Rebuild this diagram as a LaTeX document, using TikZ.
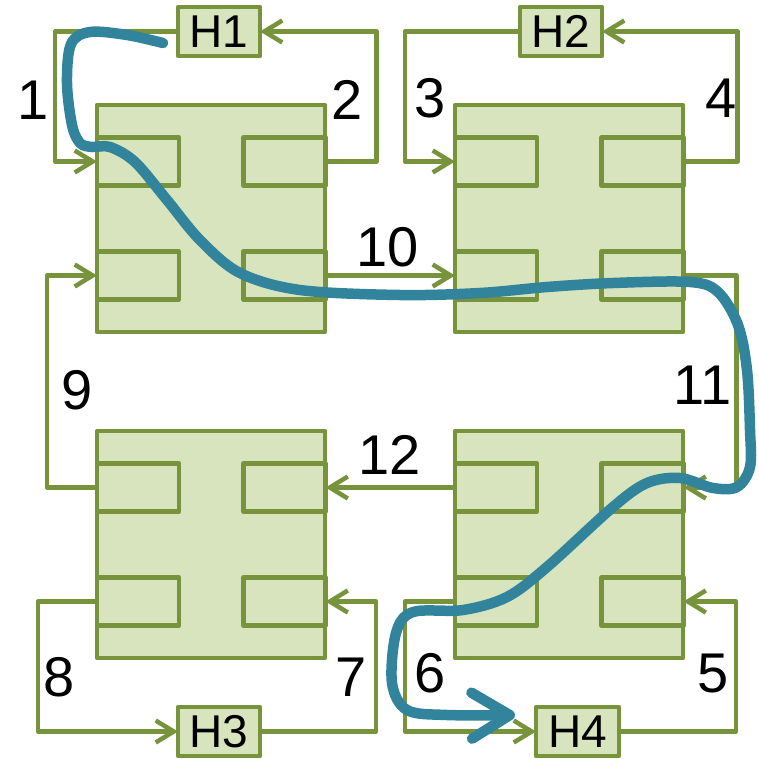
\documentclass[tikz,border=0pt]{standalone}
\usepackage{fontspec}
\setmainfont{Liberation Sans}
\usetikzlibrary{arrows.meta}
\definecolor{gline}{HTML}{77933C}
\definecolor{gfill}{HTML}{D7E4BD}
\definecolor{bpath}{HTML}{31849B}
\tikzset{
  sw/.style={draw=gline, fill=gfill, line width=4.5pt, minimum width=228pt, minimum height=227pt, inner sep=0pt, outer sep=0pt, line join=round},
  port/.style={draw=gline, fill=gfill, line width=4.5pt, minimum width=82pt, minimum height=48pt, inner sep=0pt, outer sep=0pt, line join=round},
  host/.style={draw=gline, fill=gfill, line width=4.5pt, minimum width=82pt, minimum height=49pt, inner sep=0pt, outer sep=0pt, font=\fontsize{46}{46}\selectfont, line join=round},
  link/.style={draw=gline, line width=4.5pt, line join=round},
  larrow/.style={-{Straight Barb[length=18pt, width=22pt, line width=4.5pt]}},
  lbl/.style={font=\fontsize{56}{56}\selectfont, inner sep=0pt},
  switch/.pic={
    \node[sw] (-box) at (0,0) {};
    \node[port] (-tl) at (-73,-57) {};
    \node[port] (-tr) at (73.5,-57) {};
    \node[port] (-bl) at (-73,57) {};
    \node[port] (-br) at (73.5,57) {};
  }
}
\begin{document}
\begin{tikzpicture}[x=1pt,y=-1pt]
\useasboundingbox (0,0) rectangle (759,758);
% switches
\pic (s1) at (211,218.5) {switch};
\pic (s2) at (569,218.5) {switch};
\pic (s3) at (211,544.5) {switch};
\pic (s4) at (569,544.5) {switch};
% hosts
\node[host] (H1) at (219,31.5) {H1};
\node[host] (H2) at (561,31.5) {H2};
\node[host] (H3) at (219,731.5) {H3};
\node[host, minimum width=83pt] (H4) at (577.5,731.5) {H4};
% links
\draw[link,larrow] (H1.west) -- ++(-123,0) |- (s1-tl.west);
\draw[link,larrow] (s1-tr.east) -- ++(51,0) |- (H1.east);
\draw[link,larrow] (H2.west) -- ++(-115,0) |- (s2-tl.west);
\draw[link,larrow] (s2-tr.east) -- ++(54,0) |- (H2.east);
\draw[link,larrow] (s1-br.east) -- (s2-bl.west);
\draw[link,larrow] (s2-br.east) -- ++(53,0) |- (s4-tr.east);
\draw[link,larrow] (s4-tl.west) -- (s3-tr.east);
\draw[link,larrow] (s3-tl.west) -- ++(-50,0) |- (s1-bl.west);
\draw[link,larrow] (s3-bl.west) -- ++(-59,0) |- (H3.west);
\draw[link,larrow] (H3.east) -- ++(116,0) |- (s3-br.east);
\draw[link,larrow] (s4-bl.west) -- ++(-50,0) |- (H4.west);
\draw[link,larrow] (H4.east) -- ++(117,0) |- (s4-br.east);
% labels
\node[lbl] (l1) at (33,100) {1};
\node[lbl] (l2) at (347,100) {2};
\node[lbl] (l3) at (430,98) {3};
\node[lbl] (l4) at (721,98) {4};
\node[lbl] (l10) at (388,247) {10};
\node[lbl] (l9) at (77,390) {9};
\node[lbl] (l11) at (703,385) {11};
\node[lbl] (l12) at (390,455) {12};
\node[lbl] (l8) at (59,677) {8};
\node[lbl] (l7) at (351,677) {7};
\node[lbl] (l6) at (430,673) {6};
\node[lbl] (l5) at (713,673) {5};
% route
\draw[bpath, line width=10.5pt, line cap=round, line join=round,
      -{Straight Barb[length=38pt, width=46pt, line width=10.5pt, round]}]
  plot[smooth, tension=0.55] coordinates {
  (163,43) (127,35) (90,32) (71,44) (67,83) (72,125) (80,143) (92,147)
  (110,147) (135,162) (167,200) (200,240) (240,273) (300,290) (400,295)
  (480,293) (547,287) (613,283) (690,282) (718,292) (738,325) (747,370)
  (750,430) (750,467) (737,487) (713,488) (680,478) (647,483) (613,507)
  (547,567) (507,597) (463,610) (413,612) (396,633) (392,683) (407,710)
  (447,715) (515,715)};
\end{tikzpicture}
\end{document}
